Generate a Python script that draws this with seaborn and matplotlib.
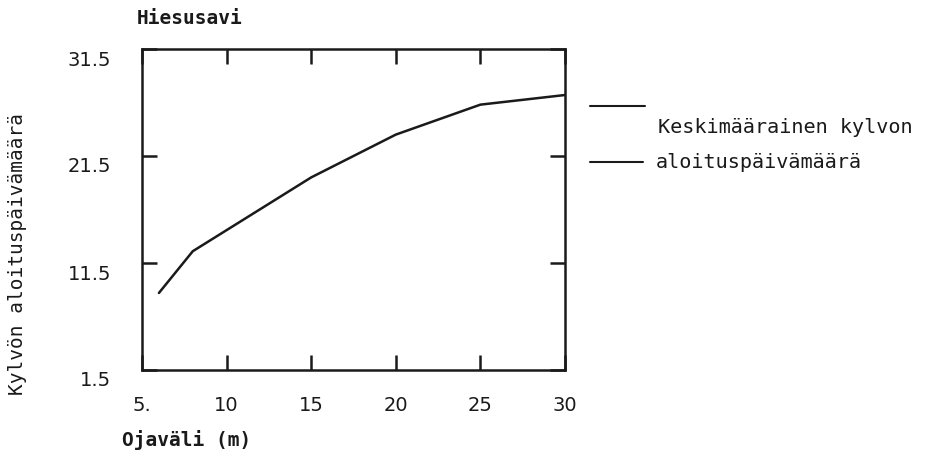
import matplotlib
matplotlib.use("Agg")
import matplotlib.pyplot as plt
import matplotlib.transforms as mtransforms
import pandas as pd
import seaborn as sns
from matplotlib.lines import Line2D

# data
ojavali = [6, 8, 15, 20, 25, 30]
kylvo_pvm = [8.7, 12.6, 19.5, 23.5, 26.3, 27.2]

x_ticks = [5, 10, 15, 20, 25, 30]
x_tick_labels = ["5.", "10", "15", "20", "25", "30"]
y_ticks = [1.5, 11.5, 21.5, 31.5]
y_tick_labels = ["1.5", "11.5", "21.5", "31.5"]

sns.set_style("white")
plt.rcParams["font.family"] = ["DejaVu Sans Mono", "DejaVu Sans"]
ink = "#1a1a1a"

df = pd.DataFrame({"x": ojavali, "y": kylvo_pvm})

fig = plt.figure(figsize=(9.5, 4.6), dpi=100)
ax = fig.add_axes([142 / 950, 1 - 371 / 460, (565 - 142) / 950, (371 - 50) / 460])

sns.lineplot(data=df, x="x", y="y", ax=ax, color=ink, linewidth=1.8)

ax.set_xlim(5, 30)
ax.set_ylim(1.5, 31.5)
ax.set_xticks(x_ticks)
ax.set_xticklabels(x_tick_labels, fontsize=14, family="DejaVu Sans")
ax.set_yticks(y_ticks)
ax.set_yticklabels(y_tick_labels, fontsize=14, family="DejaVu Sans")
ax.tick_params(axis="both", direction="in", length=11, width=1.8, color=ink,
               bottom=True, left=True, top=True, right=True, labelcolor=ink)
ax.tick_params(axis="x", pad=18)
ax.tick_params(axis="y", pad=22)
# y labels sit a little below their ticks in the original
shift = mtransforms.ScaledTranslation(0, -8 / 100, fig.dpi_scale_trans)
for lab in ax.get_yticklabels():
    lab.set_transform(lab.get_transform() + shift)
ax.set_xlabel("")
ax.set_ylabel("")
for s in ax.spines.values():
    s.set_visible(True)
    s.set_linewidth(1.8)
    s.set_color(ink)

fig.text(137 / 950, 1 - 18 / 460, "Hiesusavi", fontsize=14, fontweight="bold",
         ha="left", va="center", color=ink)
fig.text(18 / 950, 1 - 254 / 460, "Kylvön aloituspäivämäärä", fontsize=14,
         rotation=90, ha="center", va="center", color=ink)
fig.text(122 / 950, 1 - 440 / 460, "Ojaväli (m)", fontsize=14, fontweight="bold",
         ha="left", va="center", color=ink)

# legend drawn as in the original: two sample lines and two text lines
fig.add_artist(Line2D([590 / 950, 645 / 950], [1 - 107 / 460] * 2,
                      color=ink, linewidth=1.5))
fig.add_artist(Line2D([590 / 950, 643 / 950], [1 - 163 / 460] * 2,
                      color=ink, linewidth=1.5))
fig.text(658 / 950, 1 - 128 / 460, "Keskimäärainen kylvon", fontsize=14.5,
         ha="left", va="center", color=ink)
fig.text(656 / 950, 1 - 163 / 460, "aloituspäivämäärä", fontsize=14.5,
         ha="left", va="center", color=ink)

fig.savefig("out.png", dpi=100)
